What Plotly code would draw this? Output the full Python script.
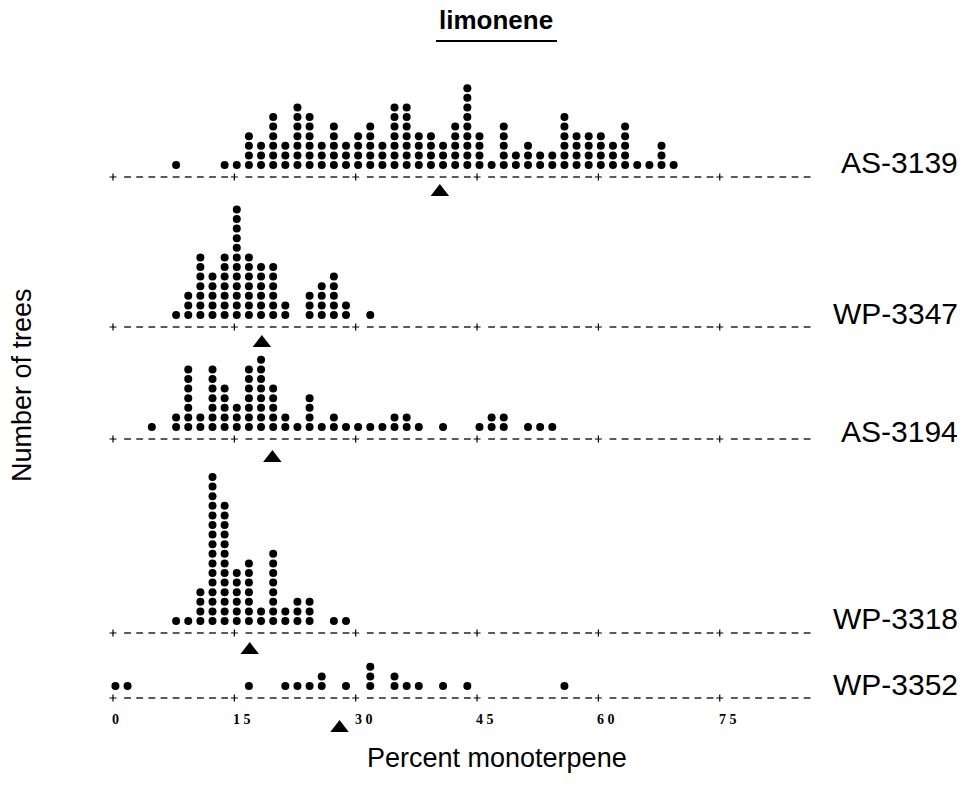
import plotly.graph_objects as go

# ---- data -------------------------------------------------------------
# Each column is a 1.5 % class of limonene (percent of monoterpene);
# counts are the number of trees (one dot per tree).
as3139_pct = [7.8, 13.8, 15.3, 16.8, 18.3, 19.8, 21.3, 22.8, 24.3, 25.8, 27.3, 28.8,
              30.3, 31.8, 33.3, 34.8, 36.3, 37.8, 39.3, 40.8, 42.3, 43.8, 45.3, 46.8,
              48.3, 49.8, 51.3, 52.8, 54.3, 55.8, 57.3, 58.8, 60.3, 61.8, 63.3, 64.8,
              66.3, 67.8, 69.3]
as3139_n = [1, 1, 1, 4, 3, 6, 3, 7, 6, 3, 5, 3, 4, 5, 3, 7, 7, 4, 4, 3, 5, 9, 4, 1,
            5, 2, 3, 2, 2, 6, 4, 4, 4, 3, 5, 1, 1, 3, 1]

wp3347_pct = [7.8, 9.3, 10.8, 12.3, 13.8, 15.3, 16.8, 18.3, 19.8, 21.3, 24.3, 25.8,
              27.3, 28.8, 31.8]
wp3347_n = [1, 3, 7, 5, 7, 12, 7, 6, 6, 2, 3, 4, 5, 2, 1]

as3194_pct = [4.8, 7.8, 9.3, 10.8, 12.3, 13.8, 15.3, 16.8, 18.3, 19.8, 21.3, 22.8,
              24.3, 25.8, 27.3, 28.8, 30.3, 31.8, 33.3, 34.8, 36.3, 37.8, 40.8, 45.3,
              46.8, 48.3, 51.3, 52.8, 54.3]
as3194_n = [1, 2, 7, 2, 7, 5, 3, 7, 8, 5, 2, 1, 4, 1, 2, 1, 1, 1, 1, 2, 2, 1, 1, 1,
            2, 2, 1, 1, 1]

wp3318_pct = [7.8, 9.3, 10.8, 12.3, 13.8, 15.3, 16.8, 18.3, 19.8, 21.3, 22.8, 24.3,
              27.3, 28.8]
wp3318_n = [1, 1, 4, 16, 13, 6, 7, 2, 8, 2, 3, 3, 1, 1]

wp3352_pct = [0.3, 1.8, 16.8, 21.3, 22.8, 24.3, 25.8, 28.8, 31.8, 34.8, 36.3, 37.8,
              40.8, 43.8, 55.8]
wp3352_n = [1, 1, 1, 1, 1, 1, 2, 1, 3, 2, 1, 1, 1, 1, 1]

# population means (triangles)
population_names = ["AS-3139", "WP-3347", "AS-3194", "WP-3318", "WP-3352"]
population_means = [40.4, 18.4, 19.7, 16.9, 28.0]

tick_values = [0, 15, 30, 45, 60, 75]
class_width = 1.5
axis_end = 85.8

# ---- layout constants (pixels) -----------------------------------------
W, H = 968, 787
X0_PX = 113.0          # pixel of 0 %
PX_PER_PCT = 8.09
PX_PER_DOT = 9.6       # vertical dot pitch
DOT_LIFT_PX = 12.0     # first dot above the dashed line
baseline_px = [177, 327, 439, 633, 698]
label_px = [162, 313, 431, 618, 684]
mean_drop_px = [15, 16, 19, 17, 30]

FONT = "Liberation Sans, Arial, Helvetica, sans-serif"

rows = [
    (as3139_pct, as3139_n),
    (wp3347_pct, wp3347_n),
    (as3194_pct, as3194_n),
    (wp3318_pct, wp3318_n),
    (wp3352_pct, wp3352_n),
]

fig = go.Figure()

x_range = [-X0_PX / PX_PER_PCT, (W - X0_PX) / PX_PER_PCT]
layout_axes = {}

below_px, above_px = 45, 175
for r, ((pct, counts), base) in enumerate(zip(rows, baseline_px)):
    yname = "y" if r == 0 else f"y{r + 1}"
    akey = "yaxis" if r == 0 else f"yaxis{r + 1}"
    bottom = base + below_px
    top = max(0, base - above_px)
    layout_axes[akey] = dict(
        domain=[1 - bottom / H, 1 - top / H],
        range=[-below_px / PX_PER_DOT, (base - top) / PX_PER_DOT],
        visible=False, fixedrange=True, anchor="x",
    )

    # stacked dots
    xs, ys = [], []
    for p, n in zip(pct, counts):
        for i in range(n):
            xs.append(p)
            ys.append(DOT_LIFT_PX / PX_PER_DOT + i)
    fig.add_trace(go.Scatter(
        x=xs, y=ys, yaxis=yname, mode="markers",
        marker=dict(size=8, color="black", line=dict(width=0)),
        hoverinfo="skip", showlegend=False))

    # dashed axis line: one dash per class, ticks replace every tenth dash
    dx, dy = [], []
    k = 0
    while class_width * k + 0.3 <= axis_end + 1e-6:
        if k % 10 != 0:
            c = class_width * k + 0.3
            dx += [c - 0.42, c + 0.42, None]
            dy += [0, 0, None]
        k += 1
    fig.add_trace(go.Scatter(
        x=dx, y=dy, yaxis=yname, mode="lines",
        line=dict(color="black", width=1.3),
        hoverinfo="skip", showlegend=False))
    fig.add_trace(go.Scatter(
        x=tick_values, y=[0] * len(tick_values), yaxis=yname, mode="markers",
        marker=dict(symbol="cross-thin", size=5, line=dict(width=1.2, color="black")),
        hoverinfo="skip", showlegend=False))

    # population mean
    fig.add_trace(go.Scatter(
        x=[population_means[r]], y=[-mean_drop_px[r] / PX_PER_DOT], yaxis=yname,
        mode="markers",
        marker=dict(symbol="triangle-up", size=16, color="black", line=dict(width=0)),
        hoverinfo="skip", showlegend=False))

annotations = []
for name, ly in zip(population_names, label_px):
    annotations.append(dict(
        x=960 / W, y=1 - ly / H, xref="paper", yref="paper",
        xanchor="right", yanchor="middle", text=name, showarrow=False,
        font=dict(family=FONT, size=30, color="black")))

# tick labels under the bottom row (digits spaced as in the original print)
for v in tick_values:
    annotations.append(dict(
        x=v, y=1 - 719 / H, xref="x", yref="paper",
        xanchor="left", yanchor="middle", xshift=-3,
        text=" ".join(str(v)), showarrow=False,
        font=dict(family="Liberation Serif, Times New Roman, serif", size=14,
                  color="black", weight="bold")))

annotations.append(dict(
    x=496 / W, y=1 - 20 / H, xref="paper", yref="paper",
    text="<b>limonene</b>", showarrow=False, xanchor="center", yanchor="middle",
    font=dict(family=FONT, size=26, color="black")))
annotations.append(dict(
    x=497 / W, y=1 - 758 / H, xref="paper", yref="paper",
    text="Percent monoterpene", showarrow=False, xanchor="center", yanchor="middle",
    font=dict(family=FONT, size=27, color="black")))
annotations.append(dict(
    x=22 / W, y=1 - 385 / H, xref="paper", yref="paper",
    text="Number of trees", showarrow=False, textangle=-90,
    xanchor="center", yanchor="middle",
    font=dict(family=FONT, size=27, color="black")))

fig.update_layout(
    width=W, height=H,
    margin=dict(l=0, r=0, t=0, b=0),
    paper_bgcolor="white", plot_bgcolor="rgba(0,0,0,0)",
    xaxis=dict(domain=[0, 1], range=x_range, visible=False, fixedrange=True),
    annotations=annotations,
    shapes=[dict(type="line", xref="paper", yref="paper",
                 x0=436 / W, x1=557 / W, y0=1 - 41 / H, y1=1 - 41 / H,
                 line=dict(color="black", width=2))],
    **layout_axes,
)

fig.write_html("out.html")
